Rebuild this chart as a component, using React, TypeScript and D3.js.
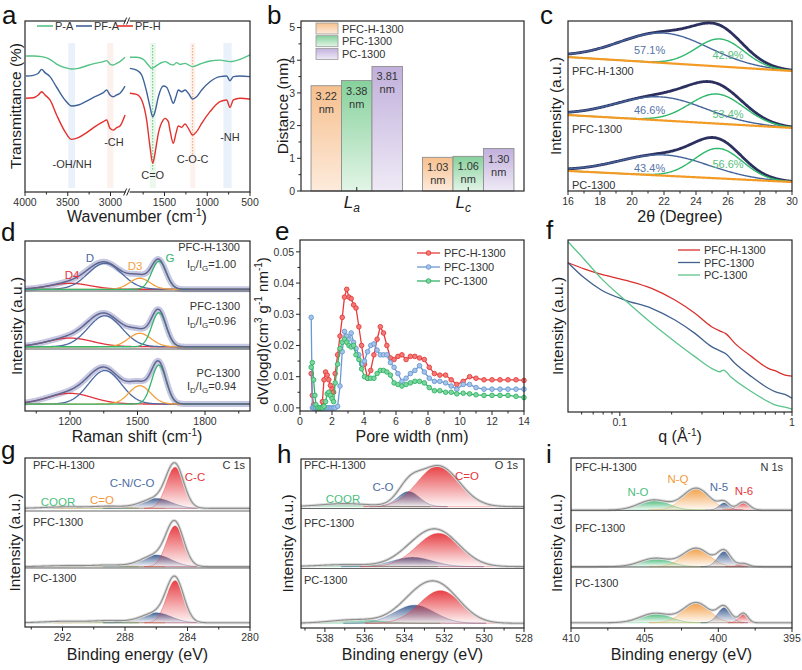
import React from 'react';
import * as d3 from 'd3';

type Pt = [number, number];
type Peak = { c: number; h: number; s: number };

const FONT = "'Liberation Sans', Arial, Helvetica, sans-serif";
const INK = '#262626';
const TXT = '#333';

const samples = ['PFC-H-1300', 'PFC-1300', 'PC-1300'];

// (a) FTIR: [wavenumber, transmittance a.u.], split at the axis break
const ftirNames = ['P-A', 'PF-A', 'PF-H'];
const paHigh: Pt[] = [[3988, 79.1], [3903, 79.1], [3805, 78.7], [3708, 77.1], [3630, 74.4], [3532, 72.3], [3454, 71.5], [3376, 71.9], [3279, 73.4], [3181, 74.8], [3084, 75.8], [3045, 76.4], [3006, 74.4], [2967, 73.8], [2928, 74.8], [2889, 75.8], [2830, 78.3]];
const paLow: Pt[] = [[1905, 78.3], [1826, 78.3], [1748, 77.1], [1689, 73.8], [1650, 71.9], [1611, 72.9], [1553, 74.8], [1494, 75.8], [1436, 74.4], [1397, 73.8], [1358, 75.2], [1319, 74.2], [1260, 74.8], [1171, 72.9], [1085, 74.4], [968, 76.2], [851, 76.7], [734, 75.8], [617, 77.1], [500, 79.7]];
const pfaHigh: Pt[] = [[3988, 67.4], [3903, 67.8], [3844, 69.0], [3805, 71.3], [3766, 69.4], [3708, 67.1], [3630, 60.9], [3532, 53.5], [3454, 50.0], [3376, 50.6], [3279, 52.9], [3181, 55.4], [3084, 57.8], [3045, 59.3], [3006, 56.4], [2967, 55.4], [2928, 56.4], [2889, 57.4], [2830, 61.6]];
const pfaLow: Pt[] = [[1905, 71.9], [1826, 70.9], [1767, 68.0], [1709, 58.3], [1670, 49.6], [1638, 43.8], [1611, 46.7], [1572, 55.4], [1514, 61.6], [1475, 60.9], [1436, 56.4], [1397, 51.6], [1366, 55.4], [1338, 59.3], [1299, 58.3], [1260, 59.3], [1221, 57.4], [1171, 54.1], [1124, 55.4], [1065, 59.3], [968, 64.1], [851, 67.1], [773, 67.4], [734, 64.7], [695, 67.1], [617, 67.4], [500, 67.1]];
const pfhHigh: Pt[] = [[3988, 54.5], [3903, 54.8], [3844, 56.4], [3805, 58.3], [3766, 56.4], [3708, 53.5], [3630, 44.8], [3532, 35.1], [3454, 30.6], [3376, 31.6], [3279, 34.5], [3181, 38.0], [3084, 40.9], [3045, 41.9], [3006, 37.0], [2967, 36.0], [2928, 37.4], [2889, 38.4], [2830, 44.8]];
const pfhLow: Pt[] = [[1905, 57.4], [1826, 56.8], [1767, 53.5], [1709, 41.9], [1670, 26.4], [1638, 16.7], [1611, 22.5], [1572, 34.1], [1514, 41.9], [1494, 42.8], [1455, 40.9], [1436, 36.0], [1397, 28.3], [1366, 34.1], [1338, 38.4], [1299, 37.6], [1260, 39.5], [1221, 37.0], [1171, 33.1], [1124, 35.1], [1065, 39.9], [968, 46.7], [851, 52.5], [773, 53.5], [734, 49.2], [695, 53.5], [617, 54.5], [500, 53.9]];
const ftirBands: Pt[] = [[3494, 3415], [3040, 2967], [1670, 1600], [1200, 1140], [812, 714]];

// (b) crystallite size
const sizeGroups = ['La', 'Lc'];
const laValues = [3.22, 3.38, 3.81];
const lcValues = [1.03, 1.06, 1.30];

// (c) XRD fit: baseline at 16° and 30°, two gaussian components
const xrdBase: Pt[] = [[78.8, 70.6], [44.7, 37.1], [11.8, 5.3]];
const xrdPeakA: Peak[] = [{ c: 22.0, h: 17.6, s: 2.8 }, { c: 21.8, h: 13.8, s: 2.8 }, { c: 22.0, h: 12.2, s: 2.8 }];
const xrdPeakB: Peak[] = [{ c: 25.5, h: 16.2, s: 1.5 }, { c: 25.3, h: 17.4, s: 1.7 }, { c: 25.4, h: 17.6, s: 1.5 }];
const xrdShareA = ['57.1%', '46.6%', '43.4%'];
const xrdShareB = ['42.9%', '53.4%', '56.6%'];

// (d) Raman fit
const ramanRatio = ['1.00', '0.96', '0.94'];
const ramanBase = [71.6, 37.8, 4.1];
const ramanD4: Peak[] = [{ c: 1200, h: 3.5, s: 90 }, { c: 1200, h: 5.1, s: 100 }, { c: 1200, h: 6.3, s: 100 }];
const ramanD: Peak[] = [{ c: 1355, h: 15.3, s: 75 }, { c: 1355, h: 18.2, s: 75 }, { c: 1355, h: 19.7, s: 72 }];
const ramanD3: Peak[] = [{ c: 1510, h: 6.5, s: 45 }, { c: 1510, h: 7.9, s: 50 }, { c: 1510, h: 10.8, s: 48 }];
const ramanG: Peak[] = [{ c: 1595, h: 16.5, s: 32 }, { c: 1595, h: 20.0, s: 32 }, { c: 1595, h: 22.9, s: 32 }];

// (e) pore size distribution
const poreWidth = [0.7, 0.77, 0.85, 0.93, 1.0, 1.1, 1.2, 1.3, 1.4, 1.5, 1.6, 1.7, 1.8, 1.9, 2.0, 2.1, 2.2, 2.35, 2.5, 2.64, 2.78, 2.92, 3.06, 3.2, 3.35, 3.5, 3.68, 3.85, 4.03, 4.22, 4.42, 4.62, 4.82, 5.02, 5.22, 5.43, 5.65, 5.88, 6.12, 6.37, 6.63, 6.9, 7.18, 7.47, 7.77, 8.08, 8.4, 8.74, 9.1, 9.45, 9.8, 10.2, 10.6, 11.0, 11.5, 12.0, 12.5, 13.0, 13.5, 14.0];
const psdPfch = [0.011, 0.004, 0.001, 0, 0, 0, 0, 0, 0.002, 0.009, 0.0115, 0.0105, 0.009, 0.0072, 0.006, 0.005, 0.011, 0.017, 0.023, 0.029, 0.0355, 0.038, 0.0355, 0.035, 0.033, 0.032, 0.026, 0.02, 0.014, 0.0095, 0.012, 0.017, 0.022, 0.026, 0.024, 0.02, 0.016, 0.0155, 0.0165, 0.017, 0.0155, 0.0165, 0.0165, 0.016, 0.0155, 0.013, 0.011, 0.0105, 0.0105, 0.009, 0.0075, 0.0085, 0.01, 0.0095, 0.009, 0.009, 0.009, 0.009, 0.009, 0.0088];
const psdPfc = [0.029, 0, 0, 0, 0, 0, 0, 0, 0, 0, 0, 0, 0, 0, 0, 0, 0, 0.0005, 0.007, 0.018, 0.0245, 0.023, 0.022, 0.024, 0.021, 0.019, 0.017, 0.014, 0.015, 0.018, 0.02, 0.0205, 0.0185, 0.017, 0.017, 0.017, 0.0145, 0.013, 0.011, 0.0085, 0.0095, 0.011, 0.012, 0.0135, 0.0115, 0.0095, 0.0085, 0.0085, 0.008, 0.007, 0.006, 0.0075, 0.0075, 0.0065, 0.006, 0.006, 0.006, 0.006, 0.006, 0.006];
const psdPc = [0.013, 0.0145, 0.009, 0.004, 0.001, 0, 0, 0, 0, 0.0005, 0.002, 0.0045, 0.005, 0.004, 0.003, 0.002, 0.008, 0.014, 0.019, 0.021, 0.022, 0.021, 0.02, 0.0195, 0.02, 0.017, 0.0155, 0.0125, 0.01, 0.0095, 0.0095, 0.0095, 0.011, 0.012, 0.012, 0.0115, 0.0105, 0.008, 0.0075, 0.007, 0.0075, 0.008, 0.0085, 0.0085, 0.008, 0.0065, 0.0055, 0.0055, 0.005, 0.005, 0.0045, 0.0047, 0.0045, 0.0042, 0.004, 0.004, 0.004, 0.004, 0.0037, 0.0033];

// (f) SAXS: [q, intensity a.u.]
const saxsPfch: Pt[] = [[0.05, 86.8], [0.0626, 83.1], [0.0748, 80.6], [0.107, 76.7], [0.153, 71.9], [0.209, 65.1], [0.273, 57.4], [0.341, 49.6], [0.39, 46.7], [0.41, 45.7], [0.466, 39.9], [0.583, 32.2], [0.728, 25.4], [0.797, 24.0], [0.91, 21.5], [1.0, 20.9]];
const saxsPfc: Pt[] = [[0.05, 86.8], [0.0626, 77.7], [0.078, 70.9], [0.107, 65.1], [0.153, 60.3], [0.209, 53.5], [0.273, 45.7], [0.341, 38.0], [0.39, 35.1], [0.41, 34.0], [0.466, 28.3], [0.583, 20.5], [0.728, 13.8], [0.797, 11.8], [0.91, 10.2], [1.0, 8.0]];
const saxsPc: Pt[] = [[0.05, 99.0], [0.0626, 88.4], [0.078, 77.7], [0.107, 65.1], [0.153, 51.6], [0.209, 40.9], [0.273, 32.2], [0.341, 25.4], [0.38, 23.4], [0.4, 24.4], [0.44, 20.5], [0.583, 11.8], [0.728, 6.0], [0.797, 4.1], [0.91, 2.8], [1.0, 1.6]];

// (g) C 1s
const c1sBase = [70.2, 35.7, 2.5];
const c1sCC: Peak[] = [{ c: 284.8, h: 24.3, s: 0.55 }, { c: 284.8, h: 24.1, s: 0.55 }, { c: 284.8, h: 24.9, s: 0.55 }];
const c1sCN: Peak[] = [{ c: 286.0, h: 5.9, s: 0.95 }, { c: 286.0, h: 6.9, s: 0.95 }, { c: 286.0, h: 5.9, s: 0.95 }];
const c1sCO: Peak[] = [{ c: 289.0, h: 1.2, s: 1.0 }, { c: 289.0, h: 0.9, s: 1.0 }, { c: 289.0, h: 1.2, s: 1.0 }];
const c1sCOOR: Peak[] = [{ c: 291.8, h: 0.9, s: 1.3 }, { c: 291.8, h: 0.6, s: 1.3 }, { c: 291.8, h: 0.9, s: 1.3 }];

// (h) O 1s
const o1sBase = [71.8, 36.3, 2.8];
const o1sCdO: Peak[] = [{ c: 532.3, h: 24.1, s: 1.05 }, { c: 532.3, h: 19.7, s: 1.1 }, { c: 532.2, h: 19.3, s: 1.05 }];
const o1sCO: Peak[] = [{ c: 533.8, h: 8.9, s: 0.55 }, { c: 533.6, h: 5.5, s: 1.0 }, { c: 533.5, h: 10.7, s: 1.0 }];
const o1sCOOR: Peak[] = [{ c: 537.0, h: 1.8, s: 1.2 }, { c: 537.0, h: 1.2, s: 1.3 }, { c: 536.5, h: 2.1, s: 1.2 }];

// (i) N 1s
const n1sBase = [69.4, 36.1, 3.1];
const n1sNO: Peak[] = [{ c: 404.4, h: 5.9, s: 1.0 }, { c: 404.3, h: 4.9, s: 1.0 }, { c: 404.3, h: 5.5, s: 1.0 }];
const n1sNQ: Peak[] = [{ c: 401.5, h: 12.8, s: 0.9 }, { c: 401.5, h: 10.8, s: 0.9 }, { c: 401.5, h: 11.8, s: 0.9 }];
const n1sN5: Peak[] = [{ c: 399.6, h: 4.1, s: 0.35 }, { c: 399.6, h: 8.8, s: 0.45 }, { c: 399.6, h: 8.8, s: 0.45 }];
const n1sN6: Peak[] = [{ c: 398.3, h: 4.7, s: 0.4 }, { c: 398.3, h: 1.8, s: 0.35 }, { c: 398.3, h: 5.5, s: 0.3 }];

const gauss = (x: number, p: Peak) => p.h * Math.exp(-((x - p.c) ** 2) / (2 * p.s * p.s));

const RED = '#e6373c';
const BLUE = '#3e5e93';
const ORANGE = '#f39a3c';
const GREEN = '#37b56d';

type Frm = { x0: number; x1: number; y0: number; y1: number };

const Frame = ({ f }: { f: Frm }) => (
  <rect x={f.x0} y={f.y0} width={f.x1 - f.x0} height={f.y1 - f.y0} fill="none" stroke={INK} strokeWidth={1.2} />
);

const Letter = ({ x, y, t }: any) => (
  <text x={x} y={y} fontSize={26} fill="#111">{t}</text>
);

const YTitle = ({ x, y, size = 15.5, children }: any) => (
  <text transform={`translate(${x},${y}) rotate(-90)`} textAnchor="middle" fontSize={size} fill="#1c1c1c">{children}</text>
);

const XTitle = ({ x, y, children }: any) => (
  <text x={x} y={y} textAnchor="middle" fontSize={16} fill="#1c1c1c">{children}</text>
);

function XTicks({ s, y, major, minor = [], fmt = (v: number) => String(v) }: any) {
  return (
    <g>
      {major.map((v: number) => (
        <line key={'M' + v} x1={s(v)} x2={s(v)} y1={y} y2={y + 4} stroke={INK} strokeWidth={1} />
      ))}
      {minor.map((v: number) => (
        <line key={'m' + v} x1={s(v)} x2={s(v)} y1={y} y2={y + 2.5} stroke={INK} strokeWidth={1} />
      ))}
      {major.map((v: number) => (
        <text key={'t' + v} x={s(v)} y={y + 14} textAnchor="middle" fontSize={10.5} fill={TXT}>{fmt(v)}</text>
      ))}
    </g>
  );
}

function PanelA() {
  const f = { x0: 25, x1: 250, y0: 21, y1: 192 };
  const k = 0.0855;
  const xa = d3.scaleLinear().domain([4000, 2820]).range([f.x0, f.x0 + 1180 * k]);
  const xb = d3.scaleLinear().domain([1910, 500]).range([f.x1 - 1410 * k, f.x1]);
  const y = d3.scaleLinear().domain([0, 100]).range([f.y1, f.y1 - 172]);
  const sx = (wn: number) => (wn > 2000 ? xa(wn) : xb(wn));
  const path = (data: Pt[]) => d3.line<Pt>().x(d => sx(d[0])).y(d => y(d[1])).curve(d3.curveMonotoneX)(data);
  const colors = ['#55c286', '#3f6399', '#e3312d'];
  const series = [[paHigh, paLow], [pfaHigh, pfaLow], [pfhHigh, pfhLow]];
  const bandColors = ['#d3e6f8', '#fbe3de', '#d8f1dc', '#fbe3de', '#d3e6f8'];
  const bx = (xa(2820) + xb(1910)) / 2;
  const slash = (yy: number) => (
    <g stroke={INK} strokeWidth={1}>
      <rect x={bx - 2} y={yy - 2} width={4} height={4} fill="#fff" stroke="none" />
      <line x1={bx - 4} y1={yy + 3.5} x2={bx - 1} y2={yy - 3.5} />
      <line x1={bx - 1} y1={yy + 3.5} x2={bx + 2} y2={yy - 3.5} />
    </g>
  );
  const legendX = [37, 76, 117];
  const tags = [
    { t: '-OH/NH', x: xa(3450), y: 168 },
    { t: '-CH', x: xa(2960), y: 146 },
    { t: 'C=O', x: xb(1638), y: 179 },
    { t: 'C-O-C', x: xb(1171), y: 163 },
    { t: '-NH', x: xb(735), y: 141 },
  ];
  return (
    <g>
      {ftirBands.map((b, i) => (
        <rect key={i} x={sx(b[0])} width={sx(b[1]) - sx(b[0])} y={f.y0 + 22} height={f.y1 - f.y0 - 26} fill={bandColors[i]} opacity={0.5} />
      ))}
      <line x1={xb(1638)} x2={xb(1638)} y1={f.y0 + 24} y2={f.y1 - 22} stroke="#4cbf6e" strokeWidth={0.9} strokeDasharray="1.5 1.5" />
      <line x1={xb(1171)} x2={xb(1171)} y1={f.y0 + 24} y2={f.y1 - 36} stroke="#f0a060" strokeWidth={0.9} strokeDasharray="1.5 1.5" />
      {series.map((pair, i) => (
        <g key={i} fill="none" stroke={colors[i]} strokeWidth={1.4}>
          <path d={path(pair[0]) as string} />
          <path d={path(pair[1]) as string} />
        </g>
      ))}
      {tags.map(t => (
        <text key={t.t} x={t.x} y={t.y} textAnchor="middle" fontSize={11} fill={TXT}>{t.t}</text>
      ))}
      {ftirNames.map((n, i) => (
        <g key={n}>
          <line x1={legendX[i]} x2={legendX[i] + 16} y1={26} y2={26} stroke={colors[i]} strokeWidth={1.6} />
          <text x={legendX[i] + 18} y={30} fontSize={11} fill={TXT}>{n}</text>
        </g>
      ))}
      <Frame f={f} />
      {slash(f.y0)}
      {slash(f.y1)}
      <XTicks s={xa} y={f.y1} major={[4000, 3500, 3000]} minor={[3750, 3250]} />
      <XTicks s={xb} y={f.y1} major={[1500, 1000, 500]} minor={[1750, 1250, 750]} />
      <XTitle x={137} y={222}>
        Wavenumber (cm<tspan dy={-6} fontSize={10}>-1</tspan><tspan dy={6}>)</tspan>
      </XTitle>
      <YTitle x={20.5} y={106}>Transmittance (%)</YTitle>
      <Letter x={2} y={24} t="a" />
    </g>
  );
}

function PanelB() {
  const f = { x0: 301, x1: 524, y0: 21, y1: 191 };
  const y = d3.scaleLinear().domain([0, 5.2]).range([f.y1, f.y0]);
  const gx = d3.scaleBand().domain(sizeGroups).range([f.x0, f.x1]).paddingInner(0.18).paddingOuter(0.09);
  const sx = d3.scaleBand().domain(samples).range([0, gx.bandwidth()]);
  const groups = [laValues, lcValues];
  return (
    <g>
      {groups.map((vals, gi) => (
        <g key={gi}>
          {vals.map((v, si) => {
            const x = (gx(sizeGroups[gi]) as number) + (sx(samples[si]) as number);
            const cx = x + sx.bandwidth() / 2;
            return (
              <g key={si}>
                <rect x={x} y={y(v)} width={sx.bandwidth()} height={y(0) - y(v)} fill={`url(#bar${si})`} stroke="#8f8f8f" strokeWidth={0.9} />
                <text x={cx} y={y(v) + 14} textAnchor="middle" fontSize={11} fill={TXT}>{v.toFixed(2)}</text>
                <text x={cx} y={y(v) + 27} textAnchor="middle" fontSize={11} fill={TXT}>nm</text>
              </g>
            );
          })}
        </g>
      ))}
      {samples.map((s, i) => (
        <g key={s}>
          <rect x={316} y={23 + i * 12.7} width={22} height={11} fill={`url(#bar${i})`} stroke="#9a9a9a" strokeWidth={0.8} />
          <text x={342} y={32.5 + i * 12.7} fontSize={11} fill={TXT}>{s}</text>
        </g>
      ))}
      <Frame f={f} />
      {d3.range(0, 5.01, 1).map(v => (
        <g key={v}>
          <line x1={f.x0 - 4} x2={f.x0} y1={y(v)} y2={y(v)} stroke={INK} />
          <text x={f.x0 - 6} y={y(v) + 3.8} textAnchor="end" fontSize={10.5} fill={TXT}>{v}</text>
        </g>
      ))}
      {d3.range(0.5, 5.2, 1).map(v => (
        <line key={v} x1={f.x0 - 2.5} x2={f.x0} y1={y(v)} y2={y(v)} stroke={INK} />
      ))}
      {sizeGroups.map(g => {
        const cx = (gx(g) as number) + gx.bandwidth() / 2;
        return (
          <g key={g}>
            <line x1={cx} x2={cx} y1={f.y1} y2={f.y1 - 4} stroke={INK} />
            <text x={cx - 5} y={208} textAnchor="middle" fontSize={17} fontStyle="italic" fill="#1c1c1c">
              L<tspan dy={4} fontSize={12}>{g.slice(1)}</tspan>
            </text>
          </g>
        );
      })}
      <YTitle x={287.5} y={106}>Distance (nm)</YTitle>
      <Letter x={267} y={24} t="b" />
    </g>
  );
}

function PanelC() {
  const f = { x0: 568, x1: 792, y0: 21, y1: 191 };
  const x = d3.scaleLinear().domain([16, 30]).range([f.x0, f.x1]);
  const y = d3.scaleLinear().domain([0, 100]).range([f.y1, f.y0]);
  const xs = d3.range(16, 30.001, 0.05);
  const lift = [[7, 7], [6, 6], [4, 9]];
  return (
    <g>
      {xrdBase.map((b, i) => {
        const base = (v: number) => b[0] + ((b[1] - b[0]) * (v - 16)) / 14;
        const ln = (fn: (v: number) => number) => d3.line<number>().x(v => x(v)).y(v => y(fn(v)))(xs) as string;
        const pa = xrdPeakA[i];
        const pb = xrdPeakB[i];
        return (
          <g key={i}>
            <path d={ln(v => base(v) + gauss(v, pa) + gauss(v, pb))} fill="none" stroke="#2c305f" strokeWidth={2.8} />
            <path d={ln(v => base(v) + gauss(v, pa))} fill="none" stroke="#44649b" strokeWidth={1.4} />
            <path d={ln(v => base(v) + gauss(v, pb))} fill="none" stroke="#2fb86c" strokeWidth={1.4} />
            <path d={ln(base)} fill="none" stroke="#f49b25" strokeWidth={2.2} />
            <text x={x(21.1)} y={y(base(21.1) + lift[i][0]) + 4} textAnchor="middle" fontSize={11} fill="#5674a8">{xrdShareA[i]}</text>
            <text x={x(26)} y={y(base(26) + lift[i][1]) + 4} textAnchor="middle" fontSize={11} fill="#59c07e">{xrdShareB[i]}</text>
            <text x={f.x0 + 4} y={y(b[0]) + 18} fontSize={11} fill={TXT}>{samples[i]}</text>
          </g>
        );
      })}
      <Frame f={f} />
      <XTicks s={x} y={f.y1} major={d3.range(16, 30.1, 2)} minor={d3.range(17, 30, 2)} />
      <XTitle x={680} y={222}>2θ (Degree)</XTitle>
      <YTitle x={560.5} y={106}>Intensity (a.u.)</YTitle>
      <Letter x={540} y={24} t="c" />
    </g>
  );
}

function PanelD() {
  const f = { x0: 25, x1: 250, y0: 241, y1: 411 };
  const x = d3.scaleLinear().domain([1000, 2000]).range([f.x0, f.x1]);
  const y = d3.scaleLinear().domain([0, 100]).range([f.y1, f.y0]);
  const xs = d3.range(1000, 2000.1, 2.5);
  const comps = [
    { peaks: ramanD4, color: '#e2343d' },
    { peaks: ramanD, color: '#4b6aa1' },
    { peaks: ramanD3, color: '#f4a03f' },
    { peaks: ramanG, color: '#35b56d' },
  ];
  const nameY = [251, 310, 377];
  const ratioY = [268, 325, 390];
  return (
    <g>
      {ramanBase.map((b, i) => {
        const all = comps.map(c => c.peaks[i]);
        const env = d3.line<number>().x(v => x(v)).y(v => y(b + d3.sum(all, p => gauss(v, p))))(xs) as string;
        return (
          <g key={i}>
            <path d={env} fill="none" stroke="#c6c8e2" strokeWidth={6} />
            {comps.map((c, j) => (
              <path key={j} d={d3.line<number>().x(v => x(v)).y(v => y(b + gauss(v, c.peaks[i])))(xs) as string} fill="none" stroke={c.color} strokeWidth={1.3} />
            ))}
            <path d={env} fill="none" stroke="#60668f" strokeWidth={1.5} />
            <text x={240} y={nameY[i]} textAnchor="end" fontSize={11} fill={TXT}>{samples[i]}</text>
            <text x={187} y={ratioY[i]} fontSize={11} fill={TXT}>
              I<tspan dy={3} fontSize={8}>D</tspan><tspan dy={-3}>/I</tspan><tspan dy={3} fontSize={8}>G</tspan><tspan dy={-3}>={ramanRatio[i]}</tspan>
            </text>
          </g>
        );
      })}
      <line x1={f.x0} x2={f.x1} y1={291} y2={291} stroke="#555" strokeWidth={1} />
      <line x1={f.x0} x2={f.x1} y1={349} y2={349} stroke="#555" strokeWidth={1} />
      <text x={72} y={279} textAnchor="middle" fontSize={11.5} fill="#e2343d">D4</text>
      <text x={90} y={262} textAnchor="middle" fontSize={11.5} fill="#4b6aa1">D</text>
      <text x={135} y={270} textAnchor="middle" fontSize={11.5} fill="#f4a03f">D3</text>
      <text x={170} y={262} textAnchor="middle" fontSize={11.5} fill="#35b56d">G</text>
      <Frame f={f} />
      <XTicks s={x} y={f.y1} major={[1200, 1500, 1800]} minor={[1050, 1350, 1650, 1950]} />
      <XTitle x={137} y={442}>
        Raman shift (cm<tspan dy={-6} fontSize={10}>-1</tspan><tspan dy={6}>)</tspan>
      </XTitle>
      <YTitle x={21.5} y={326}>Intensity (a.u.)</YTitle>
      <Letter x={1} y={241} t="d" />
    </g>
  );
}

function PanelE() {
  const f = { x0: 300, x1: 524, y0: 240, y1: 411 };
  const x = d3.scaleLinear().domain([0, 14]).range([f.x0, f.x1]);
  const y = d3.scaleLinear().domain([-0.001, 0.0538]).range([f.y1, f.y0]);
  const series = [
    { vals: psdPfch, color: '#e63b3b', fill: '#f27b78' },
    { vals: psdPfc, color: '#6a99d1', fill: '#a6c4ea' },
    { vals: psdPc, color: '#30b466', fill: '#7fd4a0' },
  ];
  const line = d3.line<number>().x((_, i) => x(poreWidth[i])).y(v => y(v));
  return (
    <g>
      {series.map((s, si) => (
        <g key={si}>
          <path d={line(s.vals) as string} fill="none" stroke={s.color} strokeWidth={1.3} />
          {s.vals.map((v, i) => (
            <circle key={i} cx={x(poreWidth[i])} cy={y(v)} r={2.3} fill={s.fill} stroke={s.color} strokeWidth={0.9} />
          ))}
        </g>
      ))}
      {samples.map((n, i) => (
        <g key={n}>
          <line x1={417} x2={440} y1={253 + i * 14} y2={253 + i * 14} stroke={series[i].color} strokeWidth={1.3} />
          <circle cx={428.5} cy={253 + i * 14} r={2.3} fill={series[i].fill} stroke={series[i].color} strokeWidth={0.9} />
          <text x={444} y={257 + i * 14} fontSize={11} fill={TXT}>{n}</text>
        </g>
      ))}
      <Frame f={f} />
      <XTicks s={x} y={f.y1} major={d3.range(0, 14.1, 2)} minor={d3.range(1, 14, 2)} />
      {d3.range(0, 0.0501, 0.01).map(v => (
        <g key={v}>
          <line x1={f.x0 - 4} x2={f.x0} y1={y(v)} y2={y(v)} stroke={INK} />
          <text x={f.x0 - 6} y={y(v) + 3.8} textAnchor="end" fontSize={10.5} fill={TXT}>{v.toFixed(2)}</text>
        </g>
      ))}
      {d3.range(0.005, 0.0501, 0.01).map(v => (
        <line key={v} x1={f.x0 - 2.5} x2={f.x0} y1={y(v)} y2={y(v)} stroke={INK} />
      ))}
      <XTitle x={412} y={442}>Pore width (nm)</XTitle>
      <YTitle x={268} y={331} size={15}>
        dV(logd)(cm<tspan dy={-6} fontSize={10}>3</tspan>
        <tspan dy={6}>{' g'}</tspan>
        <tspan dy={-6} fontSize={10}>-1</tspan>
        <tspan dy={6}>{' nm'}</tspan>
        <tspan dy={-6} fontSize={10}>-1</tspan>
        <tspan dy={6}>)</tspan>
      </YTitle>
      <Letter x={275} y={240} t="e" />
    </g>
  );
}

function PanelF() {
  const f = { x0: 568, x1: 792, y0: 240, y1: 412 };
  const x = d3.scaleLog().domain([0.05, 1]).range([f.x0, f.x1]);
  const y = d3.scaleLinear().domain([0, 100]).range([f.y1, f.y0]);
  const series = [
    { data: saxsPfch, color: '#d8302d' },
    { data: saxsPfc, color: '#41618f' },
    { data: saxsPc, color: '#5cc48c' },
  ];
  const line = d3.line<Pt>().x(d => x(d[0])).y(d => y(d[1])).curve(d3.curveMonotoneX);
  return (
    <g>
      {series.map((s, i) => (
        <path key={i} d={line(s.data) as string} fill="none" stroke={s.color} strokeWidth={1.3} />
      ))}
      {samples.map((n, i) => (
        <g key={n}>
          <line x1={678} x2={700} y1={250 + i * 12.5} y2={250 + i * 12.5} stroke={series[i].color} strokeWidth={1.3} />
          <text x={704} y={254 + i * 12.5} fontSize={11} fill={TXT}>{n}</text>
        </g>
      ))}
      <Frame f={f} />
      <XTicks s={x} y={f.y1} major={[0.1, 1]} minor={[0.06, 0.07, 0.08, 0.09, 0.2, 0.3, 0.4, 0.5, 0.6, 0.7, 0.8, 0.9]} />
      <XTitle x={680} y={442}>
        q (Å<tspan dy={-6} fontSize={10}>-1</tspan><tspan dy={6}>)</tspan>
      </XTitle>
      <YTitle x={562.5} y={326}>Intensity (a.u.)</YTitle>
      <Letter x={546} y={239} t="f" />
    </g>
  );
}

type Comp = { color: string; grad: string; peaks: Peak[] };

function XpsPanel({ f, domain, major, minor, bases, comps, seps, core, coreX, nameX, nameY, tags, letter, lx, ly, tx }: any) {
  const x = d3.scaleLinear().domain(domain).range([f.x0, f.x1]);
  const y = d3.scaleLinear().domain([0, 100]).range([f.y1, f.y0]);
  const xs = d3.range(0, 401).map(i => domain[0] + ((domain[1] - domain[0]) * i) / 400);
  return (
    <g>
      {bases.map((b: number, i: number) => {
        const peaks = comps.map((c: Comp) => c.peaks[i]);
        const env = d3.line<number>().x(v => x(v)).y(v => y(b + d3.sum(peaks, (p: Peak) => gauss(v, p))))(xs) as string;
        return (
          <g key={i}>
            {comps.map((c: Comp, j: number) => {
              const p = c.peaks[i];
              const sub = xs.filter(v => Math.abs(v - p.c) < 3.6 * p.s);
              const area = d3.area<number>().x(v => x(v)).y0(y(b)).y1(v => y(b + gauss(v, p)))(sub) as string;
              return <path key={j} d={area} fill={`url(#${c.grad})`} stroke={c.color} strokeOpacity={0.55} strokeWidth={0.7} />;
            })}
            <path d={env} fill="none" stroke="#dadada" strokeWidth={3} />
            <path d={env} fill="none" stroke="#8e8e8e" strokeWidth={1.1} />
            <text x={nameX} y={nameY[i]} fontSize={11} fill={TXT}>{samples[i]}</text>
          </g>
        );
      })}
      {seps.map((s: number) => (
        <line key={s} x1={f.x0} x2={f.x1} y1={s} y2={s} stroke="#666" strokeWidth={1} />
      ))}
      {tags.map((t: any) => (
        <text key={t.t} x={t.x} y={t.y} textAnchor="middle" fontSize={11.5} fill={t.c}>{t.t}</text>
      ))}
      <text x={coreX} y={nameY[0]} textAnchor="end" fontSize={11} fill={TXT}>{core}</text>
      <Frame f={f} />
      <XTicks s={x} y={f.y1} major={major} minor={minor} />
      <XTitle x={(f.x0 + f.x1) / 2} y={660}>Binding energy (eV)</XTitle>
      <YTitle x={tx} y={(f.y0 + f.y1) / 2}>Intensity (a.u.)</YTitle>
      <Letter x={lx} y={ly} t={letter} />
    </g>
  );
}

function Defs() {
  const bars = [['#f6c08e', '#fdebdc'], ['#86d19c', '#e3f5e7'], ['#c1b0dc', '#efeaf6']];
  const xps = [['gRed', RED], ['gBlue', BLUE], ['gOrange', ORANGE], ['gGreen', GREEN]];
  return (
    <defs>
      {bars.map((c, i) => (
        <linearGradient key={i} id={`bar${i}`} x1="0" y1="0" x2="0" y2="1">
          <stop offset="0" stopColor={c[0]} />
          <stop offset="1" stopColor={c[1]} />
        </linearGradient>
      ))}
      {xps.map(([id, c]) => (
        <linearGradient key={id} id={id} x1="0" y1="0" x2="0" y2="1">
          <stop offset="0" stopColor={c} stopOpacity={0.95} />
          <stop offset="1" stopColor={c} stopOpacity={0.04} />
        </linearGradient>
      ))}
    </defs>
  );
}

export default function App() {
  return (
    <svg width={802} height={670} viewBox="0 0 802 670" fontFamily={FONT} style={{ position: 'absolute', left: 0, top: 0, background: '#fff' }}>
      <Defs />
      <rect width={802} height={670} fill="#fff" />
      <PanelA />
      <PanelB />
      <PanelC />
      <PanelD />
      <PanelE />
      <PanelF />
      <XpsPanel
        f={{ x0: 25, x1: 250, y0: 458, y1: 627 }}
        domain={[294.4, 280]}
        major={[292, 288, 284, 280]}
        minor={[294, 290, 286, 282]}
        bases={c1sBase}
        comps={[
          { color: GREEN, grad: 'gGreen', peaks: c1sCOOR },
          { color: ORANGE, grad: 'gOrange', peaks: c1sCO },
          { color: BLUE, grad: 'gBlue', peaks: c1sCN },
          { color: RED, grad: 'gRed', peaks: c1sCC },
        ]}
        seps={[511, 568]}
        core="C 1s"
        coreX={245}
        nameX={33}
        nameY={[469, 526, 582]}
        tags={[
          { t: 'C-C', x: 195, y: 481, c: RED },
          { t: 'C-N/C-O', x: 132, y: 487, c: '#4d6ea5' },
          { t: 'C=O', x: 102, y: 504, c: ORANGE },
          { t: 'COOR', x: 58, y: 506, c: '#4cc07e' },
        ]}
        letter="g"
        lx={1}
        ly={459}
        tx={19.5}
      />
      <XpsPanel
        f={{ x0: 301, x1: 524, y0: 459, y1: 628 }}
        domain={[539.2, 528]}
        major={[538, 536, 534, 532, 530, 528]}
        minor={[539, 537, 535, 533, 531, 529]}
        bases={o1sBase}
        comps={[
          { color: GREEN, grad: 'gGreen', peaks: o1sCOOR },
          { color: BLUE, grad: 'gBlue', peaks: o1sCO },
          { color: RED, grad: 'gRed', peaks: o1sCdO },
        ]}
        seps={[508.5, 568.5]}
        core="O 1s"
        coreX={518}
        nameX={304}
        nameY={[469, 527, 584]}
        tags={[
          { t: 'C=O', x: 467, y: 480, c: RED },
          { t: 'C-O', x: 383, y: 491, c: '#4d6ea5' },
          { t: 'COOR', x: 343, y: 503, c: '#4cc07e' },
        ]}
        letter="h"
        lx={277}
        ly={463}
        tx={292.5}
      />
      <XpsPanel
        f={{ x0: 571, x1: 792, y0: 458, y1: 628 }}
        domain={[410, 395]}
        major={[410, 405, 400, 395]}
        minor={[407.5, 402.5, 397.5]}
        bases={n1sBase}
        comps={[
          { color: GREEN, grad: 'gGreen', peaks: n1sNO },
          { color: ORANGE, grad: 'gOrange', peaks: n1sNQ },
          { color: BLUE, grad: 'gBlue', peaks: n1sN5 },
          { color: RED, grad: 'gRed', peaks: n1sN6 },
        ]}
        seps={[510.5, 567]}
        core="N 1s"
        coreX={783}
        nameX={575}
        nameY={[471, 532, 587]}
        tags={[
          { t: 'N-O', x: 638, y: 496, c: '#4cc07e' },
          { t: 'N-Q', x: 678, y: 483, c: ORANGE },
          { t: 'N-5', x: 719, y: 491, c: '#4d6ea5' },
          { t: 'N-6', x: 744, y: 495, c: RED },
        ]}
        letter="i"
        lx={546}
        ly={463}
        tx={561.5}
      />
    </svg>
  );
}
